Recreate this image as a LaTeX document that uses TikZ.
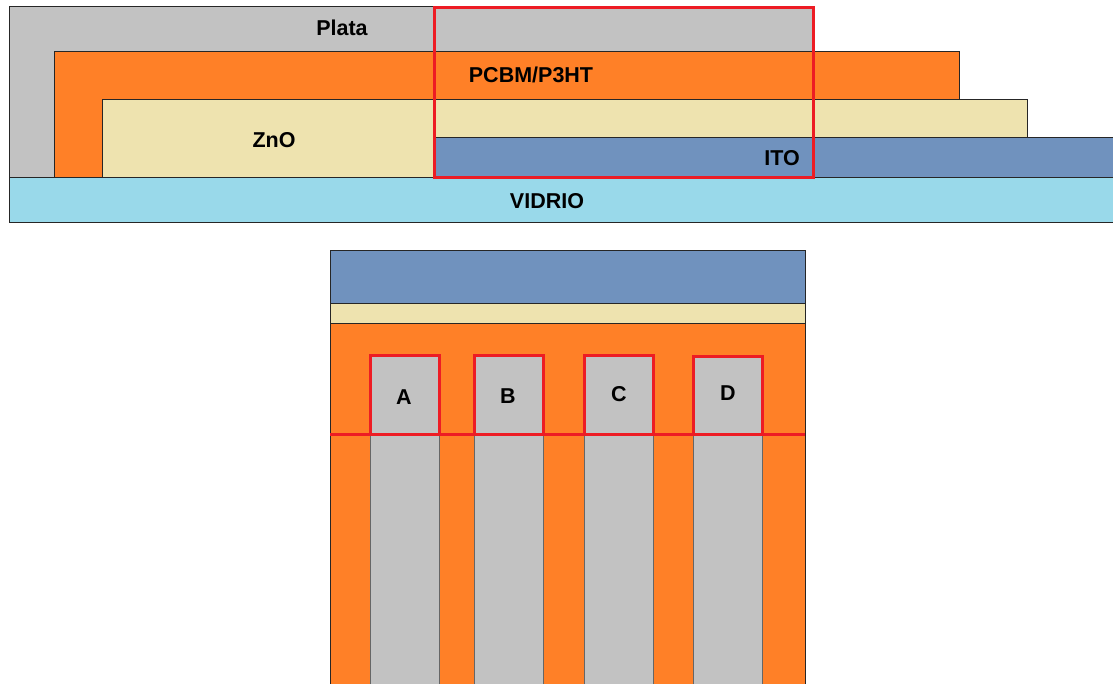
\documentclass[tikz,border=0pt]{standalone}
\usepackage{fontspec}
\setmainfont{Liberation Sans}
\definecolor{plata}{RGB}{194,194,194}
\definecolor{pcbm}{RGB}{255,128,39}
\definecolor{zno}{RGB}{238,227,175}
\definecolor{ito}{RGB}{112,146,190}
\definecolor{vidrio}{RGB}{153,217,234}
\definecolor{rojo}{RGB}{237,28,36}
\tikzset{capa/.style={draw=black!85,line width=1pt},
	marco/.style={draw=rojo,line width=3pt},
	rotulo/.style={font=\fontsize{21.5}{25}\selectfont\bfseries,inner sep=0pt}}
\begin{document}
\begin{tikzpicture}[x=1pt,y=-1pt, line join=miter]
			\useasboundingbox (0,0) rectangle (1113,684);
			% Corte lateral
			\fill[plata,capa] (9,7) rectangle (813,178);
			\fill[pcbm,capa] (54,52) rectangle (959,178);
			\fill[zno,capa] (102,100) rectangle (1027,178);
			\fill[ito,capa] (435,138) rectangle (1113,178);
			\fill[vidrio,capa] (9,178) rectangle (1113,223);
			\draw[marco] (434,8) rectangle (813,178);
			\node[rotulo] (plata) at (342,28) {Plata};
			\node[rotulo] (pcbm) at (531,75) {PCBM/P3HT};
			\node[rotulo] (zno) at (274,140) {ZnO};
			\node[rotulo] (ito) at (782,158) {ITO};
			\node[rotulo] (vidrio) at (547,201) {VIDRIO};
			% Vista superior
			\def\xa{330} \def\xb{805} % bordes
			\fill[pcbm,capa] (\xa,324) rectangle (\xb,684);
			\fill[ito,capa] (\xa,251) rectangle (\xb,304);
			\fill[zno,capa] (\xa,304) rectangle (\xb,324);
			\foreach \i/\j/\t in {370/439/355,474/543/355,584/653/355,693/762/356}
			\fill[plata,draw=black!60,line width=1pt] (\i,\t) rectangle (\j,686);
			\draw[marco] (\xa,434) -- (\xb,434);
			\foreach \i/\j/\t/\l/\p/\q in {370/439/355/A/404/397,474/543/355/B/508/396,584/653/355/C/619/394,693/762/356/D/728/393}{
			\draw[marco] (\i,434) |- (\j,\t) -- (\j,434);
			\node[rotulo] (celda\l) at (\p,\q) {\l};
			}
			\end{tikzpicture}
\end{document}
